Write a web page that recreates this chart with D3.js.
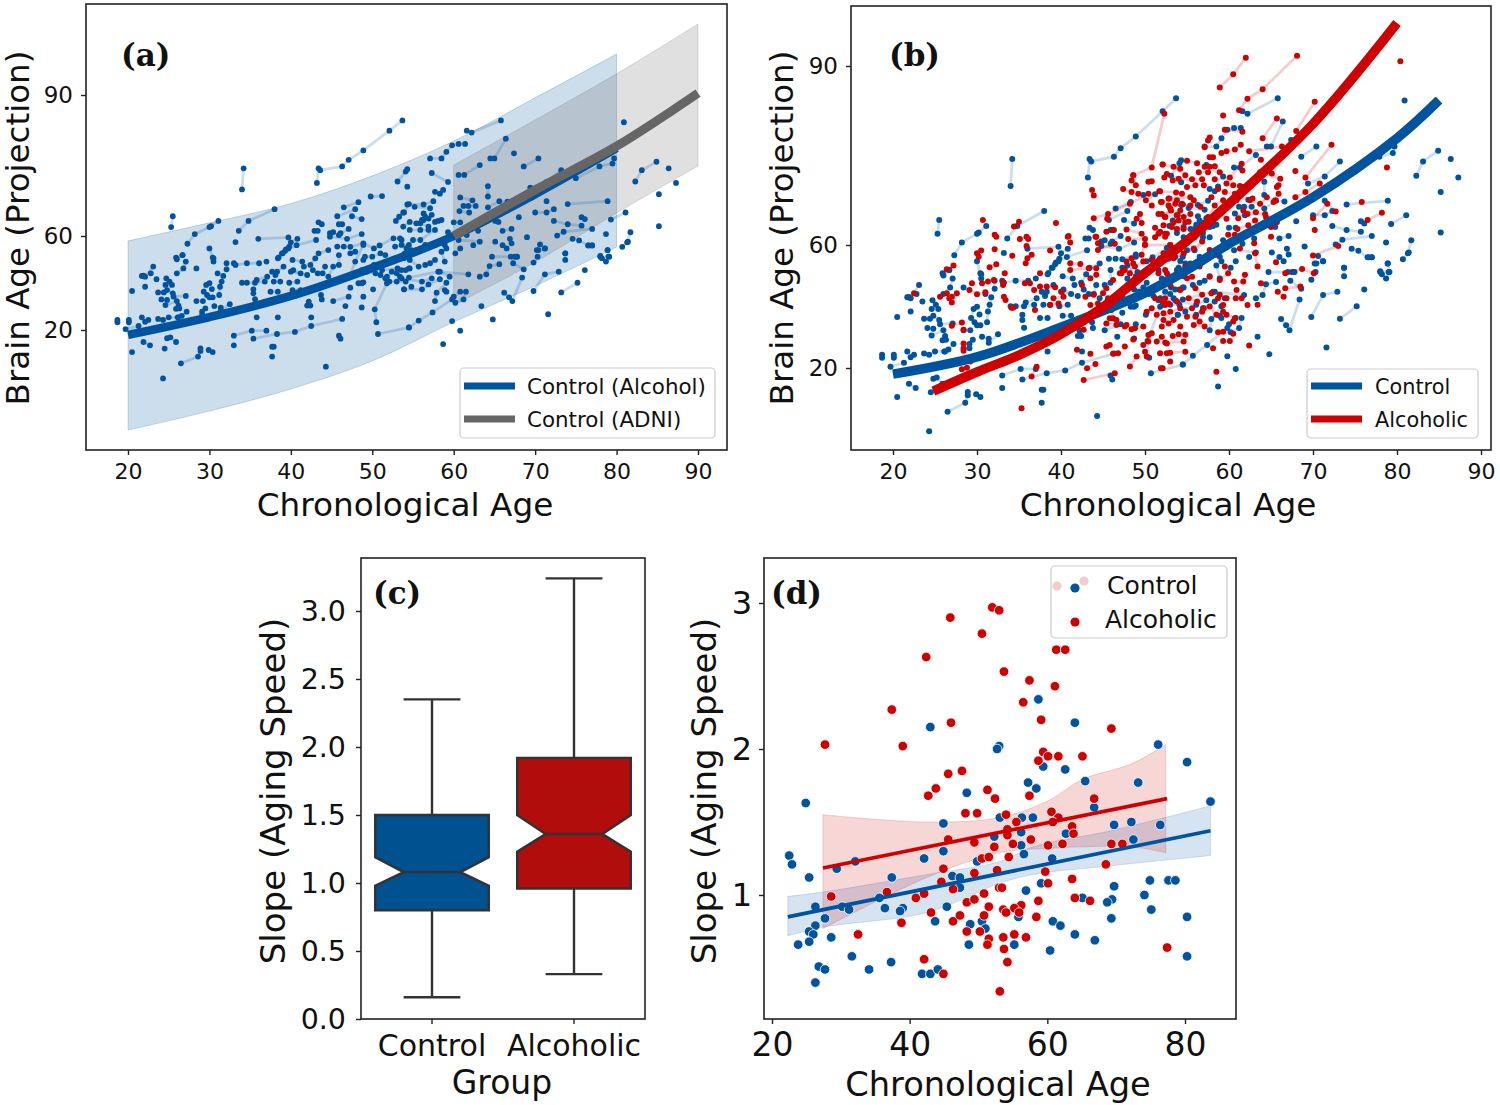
<!DOCTYPE html>
<html>
<head>
<meta charset="utf-8">
<script src="https://d3js.org/d3.v7.min.js"></script>
<style>
html, body { margin: 0; padding: 0; background: #fff; }
text { font-family: "DejaVu Sans", sans-serif; fill: #111; }
</style>
</head>
<body>
<div id="chart"></div>
<script>
var blue = "#00539f";
var red = "#cf0000";
var gray = "#666666";

// trend curves and shaded bands, panel (a)
var ageA = [20, 30, 40, 50, 60, 70, 80];
var controlA = [17.9, 25.5, 34.5, 46.4, 60, 68.9, 78.7];
var controlUpperA = [57.9, 62.8, 66.9, 72.8, 80.2, 89.4, 98.7];
var controlLowerA = [-22.6, -14.5, -5.1, 6.8, 23.4, 38.7, 55.3];
var ageAdni = [60, 70, 80, 90];
var adni = [60, 69.8, 79.1, 90.4];
var adniUpper = [75.1, 84.7, 94.5, 105.1];
var adniLower = [30.6, 48.9, 64.9, 74.9];

// trend curves, panel (b)
var ageControlB = [20, 30, 40, 50, 55, 60, 70, 80, 85];
var controlB = [18, 23.6, 33.3, 44.4, 51.9, 60.2, 68, 77.9, 84.3];
var ageAlcoholicB = [24.8, 30, 35, 40, 45, 50, 55, 60, 70, 80];
var alcoholicB = [12.5, 18.7, 24.2, 31, 39.8, 50.9, 60.7, 66.9, 80.3, 97.2];

// boxplot, panel (c)
var groups = ["Control", "Alcoholic"];
var whiskerLow = [0.16, 0.33];
var boxQ1 = [0.8, 0.96];
var notchLow = [0.98, 1.23];
var boxMedian = [1.08, 1.36];
var notchHigh = [1.19, 1.5];
var boxQ3 = [1.5, 1.92];
var whiskerHigh = [2.35, 3.24];

// regression lines and bands, panel (d)
var fitAgeControl = [22.3, 83.7];
var fitControl = [0.85, 1.44];
var fitAgeAlcoholic = [27.4, 77.4];
var fitAlcoholic = [1.185, 1.66];
var bandAgeControl = [22.3, 27.4, 42.5, 53.1, 57.9, 69.2, 83.7];
var bandControlUpper = [0.99, 1.02, 1.14, 1.23, 1.33, 1.44, 1.61];
var bandControlLower = [0.72, 0.78, 0.88, 1.08, 1.14, 1.2, 1.27];
var bandAgeAlcoholic = [27.4, 42.5, 53.1, 60.3, 65, 72.3, 77.2];
var bandAlcoholicUpper = [1.55, 1.5, 1.53, 1.65, 1.79, 1.9, 2.03];
var bandAlcoholicLower = [0.77, 1.12, 1.29, 1.32, 1.33, 1.33, 1.29];

// one flat age,brain,age,brain list per subject
var controlTracks = [
[25.3,61.9,25.5,64.2],[34.0,69.9,34.2,74.4],
[43.2,71.3,43.4,74.4,43.6,74.0,46.3,74.8,47.1,76.2,48.9,78.2,52.1,82.4,53.7,84.6],
[33.6,61.1,34.8,63.2,38.0,65.7],[27.3,56.7,28.2,60.4,30.0,61.9,30.2,62.1,31.1,63.2],[33.2,57.4],
[36.0,58.8,39.7,59.4],[38.5,50.9,38.9,52.6,39.3,53.7,39.7,54.7,40.7,56.1,43.1,58.3],[40,57.3,40.8,58.8],
[49.8,68.4,51.2,68.5],[46.5,66.1,48.3,67.2],[45.7,64.2,47.9,65.7],[47.5,64.2,48.7,63.6],
[43.4,62.9,43.8,62.5],[42.9,61.1,43.3,61.1],[45.9,62.5,46.3,62.5],[44.8,60.6,45.2,60.8],[45.9,60.2,46.1,60.6,47.1,61.5],[44.8,59.7,46.9,58.8,48.7,60.4],
[53.1,71.6,54.1,73.7,54.3,74.2],[54.3,70.5],[52.9,63.2,53.3,64.1,53.9,65.0,54.5,66.8],
[30.0,54.7,30.4,50.8],[25.9,50.8,26.7,51.9],[47.3,55.4,48.9,56.9,50.2,54.7,50.9,56,52.6,59,53.4,59],
[18.7,24.3],[18.7,23.3],[20.1,24.3],[20.1,23.3],[19.7,20.4,21.3,21.7],[20.5,36.6],[20.5,10.6],
[21.7,43,21.9,43.1,22.1,42.7,23.1,47],[22.8,44.1],[22.1,38.4],[23.5,41.6],[26,50.1,26.7,51.9],[26,44.1,26.8,46.2,27.1,49.1],[28.4,46.2],
[24.7,42,25.1,40.6],[24.6,39.2,25.4,39.2],[24.8,37,25.5,35.6],[23.7,36,24.4,36],[25.6,34.2,27.1,34.5],[24.1,33,24.8,32.8],[24.6,30.6,26,32.3],[26.2,30.4,25.9,29,26.3,29.2],[27.2,27.8,26.6,26,26.1,25.4],
[21.7,25.4,22.1,23.5,22.5,24.3],[23.7,24.7,24.3,24.3,25,25.4,26.2,25.4],[21.9,14.9,22.7,13.5],[24.5,12.1],[24.8,16.5,25.2,16.9,25.9,14.9],[24.3,-0.6],
[26.5,5.8,28.6,8.7,28.9,11.1,28.9,12.2],[29.9,11.5,30.4,10.6],[33,17.6,35.2,19.7,37,19.7],[35.4,16.3,38.3,18.3,40.5,19.2,42.5,21.7,46.3,24.7],[33,13.5],
[35.8,25.4],[38.4,25.4],[42.5,25.4],[37.7,12.9,37.9,12.9],[37.7,8.7],[44.3,4.4],[45.9,17.6,46.1,16.3],[50.7,18.3,54.5,21.1],
[50.5,23.3,50.3,28.8,51.8,39.9],[48.7,29.6],[46.7,30.2],[45.2,32.3,47.1,34.2],[47.3,38],[48.9,34.2],[42,30.4,42.2,32.1,42.4,30.4],[43.7,34.9,43.8,33],[50.1,37.3],[53.9,37.3],
[29.3,36.3,29.6,39.2,30,39.9],[30.3,37.4],[29.7,34.9,30,33.9,30.4,33.9],[31.2,34.9,31.3,38.4,31.5,40.6,31.7,43],[32.1,45.8,32.1,48.4],[30.5,49.1,30.5,50.5],[31,44.1],
[28.4,32.3,29.2,32.3],[29.1,26.4,29.1,27.8,29.5,29.2],[30.6,30.2,31.4,29.5],[31.4,28.2,32.5,31],[33,48.4,33.2,47.7,34.6,48.4,36.1,48.4],[37,49.1],[38.4,50.5,39,52.6,39.4,54.3,39.8,55.5],
[40.2,49.8,41.4,49.1],[41.6,47],[40,44.8,42,43.4],[42.7,45.5,43.3,44.1,43.9,44.1,44.2,47],[37.7,44.8,38.1,43.4],[37.9,40.6,38.7,40.6],[37.5,36.3,38.4,36.3],
[34,40.1,34.6,40.1,35.6,40.1,36.8,40.6],[35.4,35.6,35.4,37.3],[35.6,33.1],[39.8,40.1,40.8,40.6],[40.2,37,41.2,37],[44.6,42.7,45.2,47,45.9,47.7,45.9,51.9],
[47.3,43.4,47.9,49.1,48.9,56.2],[48.9,49.8],[50.4,44.1,50.2,47.7],[49.1,51.2,50,51.2,51,52.6],[48.3,39.9,48.7,39.9,48.9,40.3],
[51.2,45.5,53.1,46.2,54.1,45.5],[51.6,42],[52.1,40.6,53,40.6,54.1,40.6],
[58.7,14],[60.8,19.7],[59.8,23.8],[64.8,24.5],[71.6,26.7],[54.5,21.1,55.7,24,57.4,27.5,59.8,33],[57.7,32.3,57.9,35.9,59.1,40.1],
[60,34.2,60.8,36.3],[60.2,31.6,61.2,33,61.5,36.3],[63.4,30.2],[66.2,35.9,66.8,33.9],[67.2,32.3,68.4,42.3],[69.8,36.6,71.2,43.7,72.9,44.8],[73.2,36,75.2,40.1],
[76.1,45.5],[78,51.2,78.2,50.5],[78.7,49.1,79.1,51.2,78.9,54],[80.7,55.4,81.3,57.3,81.7,60.8],[81.4,57.6],
[53.9,37.3,56.1,37.3,56.9,39.4,58.3,41.6],[58.9,37,59.1,36.3],[54.5,42.3,58.1,44.8,61.8,43.7],[63.2,42.7,64,43.7,64.4,47.2,65.6,48],[67.3,48.4,68.6,45.8],
[69.8,48.7,70.3,51.2],[70.4,54,71.2,54.7],[73.7,52.6,73.7,49.8],[76.6,56,77,56],[64.7,51.2,67,51.2,67.8,51.2],
[61.6,82.4,62.2,82.0,65.8,84.6],[57.1,76.5,58.5,76.5,59.1,77.9,59.8,79.3,60.6,79.6,61.4,79.6],[64.5,76.5,65,76.5,66.4,80.7],[67.4,77.6],[68.6,74.8,70.4,76.5],[80.9,84.2],
[82.3,71.6,83.1,74.0,84.9,75.8],[86.4,74.4],[87.3,71.3],[85.2,68.9],[85.2,62.1],[79.3,63.5,81.1,65],[74,66.8,78.9,67.4],[69.4,70.3,71.4,71.5,73.2,74],
[75,72.3,77.9,74.8,79.5,75.4,79.7,76.5],[60.6,73,61.3,73,63.2,75.1],[57.3,73.4,59.3,71.5],[57.7,69.4,58.3,69,58.7,69.8],[54.3,66.7,56.3,66.7,57.5,67.4],
[64.2,68.4,64.2,70.6],[60.8,68.2,62.3,67.6],[61.2,66.4,61.8,66.4,62.7,66.4],[64.2,66.1,65.6,67.4,66.6,67.3],[60.7,65.3,61.9,65],[70,65,71.4,65,72.3,65.7],[71.4,67.4],
[68,64],[65.1,63.2,65.5,63],[60,62.9,60.8,62.9],[58.1,63.2],[55.4,62.7,56.1,63.4,56.5,64.1],[75.7,64,76.1,63.6],[72.3,63.2,74,62.5,75.7,62.2],[72.7,60.1,73.5,60.9,77,61.5],[78.7,60.4],
[69,59.5],[66,61.1,67.1,61.5],[65.1,57.6],[63,61.1],[61.6,60.2],[59.3,60.8],[74.6,58.8,75.4,58.1,76.5,56,77,56],[70.6,56.4,71.2,54.7],[70.2,54],
[66.9,58.8,67.1,56.9],[66,56.1,66.5,54.7],[60.6,58.3,63.2,57.6],[62.4,56.1],[60.8,54.7],[78.9,54],[78,51.5,79,51.2],[73.7,52.6],[67.5,51.2,67.7,51.2],
[53.8,65],[54.6,61.3,55.9,61.3,56.9,61.3],[56.3,63.4,56.9,63.7,57.3,64.5],[55,58.3,55.9,58.3,57.7,61.3],[58.3,57.6,58.7,57.6],[59.1,54.7],[60.2,52.6],[54,52.6],[54.8,54],[53.6,58.3],
[48.7,45.5,49.8,46.2],[49.3,44.8,51,43.4],[51.8,42.7,52.4,44.8],[53,44.1,53.6,45.5,54.5,46.2],[53.4,42.7],[52,49.1,52.8,49.8,53.9,50.5,54.5,51.2],[51.6,51.9],[52.8,55.5,53.6,56.2,54.5,56.2],
[47.3,52.6,47.9,53.3],[45.7,55.5,46.5,55.5],[43.4,52.6,44.6,54],[42.4,47.7,43,50.5],[40.3,45.5,41.2,44.1],[38.3,44.8,39.1,47],[35.8,41.3,37.1,42.7],
[54.6,49.8,55.7,47],[56.5,47.7,57.1,48.4,57.7,49.8],[58.5,53.3,58.9,49.1],[53.8,51.9,54.2,54.8,55.4,54],[56.5,56.2,57.7,56.2,58.9,56.2],[53.6,42,56.1,40.6,57.3,42],[54.8,38.4],[58.3,44.8,59.5,42.7],[54.6,46.2],
[55.2,66.2,57.1,65.9],[56.3,64.8],[55.9,62.7,56.9,62],[57.7,63,58.5,63.4],[53.8,62,54.6,63]
];

var alcoholicTracks = [
[30.7,64.2],[32.1,61.7,32.3,61.4],[34.4,63.1,35,63.9],[35.1,61,35.9,61.4,36.1,61],[39.4,63.7],[40.8,61.4],[43.9,64.5,45.6,65.2,48.2,66.9,50.4,68.6],[43.7,69.2,43.9,68.3],[45.5,64.4],[45.4,62.2,46.2,62.5],[44.1,61.4],
[47.4,69.4,48.4,68.9],[48.9,70,48.6,71.7],[48.4,70.8],[48.6,71.7,50.8,73,52.3,82],[52.1,73.5],[52.3,71.3],[50.4,70.6,50.8,70.7],[49.2,68.6],[50.1,67.5,51.7,69],[52.8,67.8],[51.9,67.2],[50.8,66.6],[51.6,65.2,52.4,64.7,53,66.1],
[49.4,65.2,49.6,63.7],[49,64.4],[47.8,62.6,49.6,61.9],[48,61,50,61],[51.2,62.9,51.8,62.2,52.4,61.9],[51.2,61.3],
[58.9,86.4,60.5,88.6,62,91.4],[61.2,82.6,62.2,84.5,64,86.1,68.1,91.7],[59.3,81.7],[68,79.1,70.2,84],[80.4,90.8],[64,77.9,65.7,81.2],[59.5,79.3,61.6,79],[57.5,77.5,57.7,78],[59.1,75.4,59.7,75.7,60.7,76,61.4,76.8],[62.4,75.7,66.3,76.5],
[69.1,71.3,72.2,76.8],[67.9,72.4],[63.8,74.3],[78.8,73],[65.1,72],[75.8,67.2],[76.5,64.2,78.2,65.4],[70,64.5,71.7,66.9,72.7,65.6],[67.9,68,69.1,68.9,70.8,70.3],
[57.1,76.4],[57.7,74.7,58.1,74.7],[57.1,73.1,57.7,73.1,58.3,73.2,58.9,72.2],[55,74.1,56.2,73.7],[52.1,73.5,54.2,72.8],[53.3,70.8,55.6,71,56.8,71],[58.3,71,60.1,71.3,61.5,73.6],[61.6,72.5],
[59.7,70.3,60.5,70,61.3,69.9],[59.5,68.9,60.7,68.6],[58.7,69.4],[57,70],[57.9,68],[51.8,69,53.7,68.8,54.4,68.6],[52.9,67.8,55.4,68],[52,67.2,53.8,67.5],[54.4,66.9,55.4,66.6],[53.1,65.8],[52.4,64.7,53.8,65],[54.6,64.7,55.4,65.2],
[54,64.1,55.2,63.9],[53.2,63,54.6,62.7],[52.6,61.9],[63.7,72.2,66.1,71.1],[65.7,69.7,65.9,70],[65.3,67.2,65.5,67.5,65.9,68.6],[62.8,67.8],[61.7,65.8,63.2,65.5],[61.1,64.5,62.2,65.2,64.3,65.2],[64.4,64.7],[61,62.7,62.3,63.3,63.1,64.1],[59.9,61.7,60.7,61.7],[65,61.4],[65.7,63.8],
[26.4,52.1,27.2,53.3],[22.5,44.3],[25.6,43.2,26.4,44.3],[26.7,42.7,27,43.2],[27,41.3,27.6,44.3],[30.2,56.2,30,57.3,30.5,58.2],[32.1,58.6],[31.5,52.8,32.3,53.7],[33.3,50.8],[32,48.6],[30.6,47.6,31.3,48.1],[29.4,47.6],[29.1,45.4,30,44,31,44.6],
[33.1,47,33.1,47.9],[33.2,43.2,33.4,42.1],[34.1,39.6,34.3,39.6],[34.2,56.5],[35.8,54.1,36,55.7,36.5,56.8],[35.9,59.7],[38.7,58.2],[40.9,61.5,41.1,60.4],[37.5,50.8],[35.7,47.6,36.3,47.6],[36.8,45.4,37.5,46.5,38.3,46.5,39.3,46.3],[40.1,44.8],
[36.9,38.9],[38.7,40.5,39.7,41],[39.1,42.7,40.3,43.2],[41.1,54.1,42.3,53.8],[41.1,51.9,43.3,52.4,44.2,52.4],[44.2,50.3],[43.5,49.2],[42.5,47],[42.9,43.2,43.9,43.8],[43.5,40.5,44.4,41],
[44.2,61.4,44.4,60.3],[44.4,58.4,46.4,60.2],[47,50.8,47.4,51.9],[48.2,50.8,48.6,54,48.4,55.7],[49.6,56.8,50,60.1],[46.2,48.6],[45,44.3,45.4,45.9],[45.6,42.7],[45,38.9],[45.8,36.2,46.6,35.6],[45.4,34.5,46.6,34,47.6,33.5],[48.4,32.6,48.8,32.9,49.8,33.5],[50.4,28.6,50.8,31.3],[49.8,27.5],[48.6,29.3],[47.6,27],
[46.2,24.6,46.8,24.8],[45.4,27,45.8,27.5],[42.7,32.4],[41.9,25.9],[43.5,24.6],[43.1,19.9,44.1,21.3],[42.7,16.1,46.4,18.3],[36.5,17.2,37.1,20.4],[35.3,6.9],[48.2,20.5,49,23.7],[50,25.3,50.2,23.7],
[51.4,28.6,52,30.2],[52.6,28],[51.8,24.8,53,25],[51.9,19.9],[50.4,30.7],[52,42.1,52.4,40.5],[51.4,37.3],[50.2,38.3,50.8,39.4],[51.2,42.7],[28.4,25.6,28.4,26.4],[29.2,22.1],[28.2,19.6,28.8,20.1],[27,33.7,28.2,34.8],[28.4,32.4],[28.4,28],
[70,56.6,73,59.7],[70.2,62.5],[65.6,54.4],[66.7,50.8,68.7,52.2,70.1,50.8],[66.7,45.9,68.5,46.5],[66.5,43.2,65.8,44.8],[63.8,47.6],[62.2,40.5],[63.4,40.6],[65,63],
[63.4,53,63.1,57.3],[63,60.3],[61.3,58.9],[60.6,48.1,61.7,48.1,61.9,50.3],[60.9,45.4],[60.8,42.7,61.5,42.7],[58.7,42.7,58.9,43.8],[59.7,42.7],[59.3,40.5],[59.3,38.3,59.7,37.3,60.7,36.2],[60.5,35.1],[58.7,31.6,59.3,31.8,60.5,31.1],[59.3,28.8,60.1,28.8],[58.1,26.4],[62.4,27.3],[58.5,18.8],
[58.9,48.6,59.9,50.8],[59.5,53],[57.7,49.7],[56,54,56.5,53],[55,49.2,55.6,49.7],[56,45.9,56.8,43.8],[57.9,44.3],[56.8,38.3,57,39.4],[56,36.7,56.5,35.1],[55.8,34,57.1,33.5],[55,36.7],[54.2,33.5],[53.3,30.4,54,31,54.8,30.8],[52.4,28.3,54.6,28.6],[52.6,24.8,54.8,25.3],[53,22.1],[52.1,19.9],
[51.6,61.9,52.4,61.4],[50,60,53,60],[47.2,50.8,47.6,51.9,47.8,54.6],[48.8,53,49.8,54.6],[50.8,55.1,51.8,55.7],[51.6,50.8,52.4,51.9],[46,38.9,46.2,36.2],[47.8,34],[52.2,41.6,52.8,41],[52.2,35.6,52.8,34.5],
[53.4,73.1,54.8,71.7],[52.6,71.9,54,71.1],[56.4,72.2,57.5,72.2],[55,69.7,56,70],[52.8,66.6,53.6,66.9],[52,65.2,54.2,65.8],[52.2,63.3,53.4,63.8],[55.8,67.5,56.6,66.4],[57.5,64.7,58.3,66.6,59.3,67.5],[60.1,66.9,60.9,67.5,61.7,69.7],[62.5,67.5,63.7,66.9,64.5,68],[58.7,65.5,59.7,64.4],
[53.8,62.7,54.8,63.8],[52.2,57.3,53,60],[53.4,55.7,54.6,57.3,55.8,58.9,56.8,60.6],[57.7,58.4,58.5,56.8],[52.6,50.8,53.6,49.7,54.8,53],[53,47,54.2,45.4],[52.4,42.7,53.8,41.6,55.2,42.7,56.2,41.6],[53,38.3,54.2,39.4,55.6,39.4],[52.2,37.8,53.4,35.6],[52,33.5],[57.7,40,58.5,37.3]
];

// subject points, panel (d): age, slope
var slopeControl = [
[24.9,1.63],[22.5,1.27],[22.9,1.21],[25.4,1.12],[26.3,.92],[30.2,.92],[31.2,.90],[29.4,1.18],[32.1,1.23],[37.4,1.12],[35.6,.98],[36.4,.91],[39.0,.91],[38.6,.89],[42.1,1.25],[44.9,1.49],[44.9,1.30],[45.4,.92],[46.2,1.13],[47.3,1.12],[47.3,1.05],[27.7,.84],[26.3,.79],[25.4,.75],[26.0,.73],[28.6,.71],[25.4,.68],[23.8,.66],[26.8,.51],[27.7,.49],[26.3,.40],[31.6,.58],[34.1,.49],[37.3,.54],[41.8,.46],[43.0,.46],[44.1,.49],[43.7,.82],[48.8,.80],[48.6,.66],[50.5,.82],[51.0,.77],[49.8,1.23],[52.3,1.40],[53.1,1.53],[48.3,1.70],[43.0,2.15],[53.0,2.02],[52.7,2.00],[58.7,2.34],[64.0,2.18],[59.4,1.88],[62.6,1.86],[57.2,1.77],[58.4,1.73],[65.5,1.78],[73.2,1.77],[76.1,2.03],[80.3,1.91],[83.7,1.64],[66.8,1.60],[69.7,1.48],[72.2,1.50],[76.4,1.48],[72.5,1.38],[57.9,1.53],[56.3,1.53],[56.2,1.43],[56.2,1.34],[56.6,1.28],[62.7,1.42],[60.7,1.25],[59.1,1.08],[56.9,1.03],[69.7,1.06],[74.9,1.10],[77.6,1.10],[78.6,1.10],[74.1,1.00],[75.1,.90],[80.3,.85],[69.4,.97],[68.7,.95],[69.3,.84],[65.1,.98],[60.8,.82],[61.9,.79],[64.0,.73],[66.9,.69],[60.4,.62],[80.3,.58],[55.2,.66],[55.8,.85]
];
var slopeAlcoholic = [
[28.6,.99],[32.5,.73],[36.7,1.02],[38.8,.81],[40.9,.98],[42.1,1.01],[42.1,.56],[44.9,.46],[43.1,.88],[44.9,1.18],[44.6,1.09],[45.6,1.38],[48.1,1.56],[49.8,1.56],[49.4,1.36],[46.3,1.04],[46.3,.82],[47.3,.86],[48.3,.75],[48.3,.95],[49.4,.97],[50.8,1.01],[51.5,.92],[50.8,.86],[50.2,.75],[51.5,.70],[51.3,.66],[49.4,1.15],[50.5,1.25],[51.5,1.26],[52.3,1.33],[52.7,1.17],[53.0,1.05],[53.1,.34],[42.7,1.68],[51.3,1.72],[52.4,1.66],[27.7,2.03],[37.4,2.27],[42.4,2.63],[45.9,2.90],[52.0,2.97],[53.0,2.95],[50.5,2.79],[46.0,2.18],[39.0,2.02],[43.8,1.73],[45.6,1.83],[47.6,1.85],[53.7,2.53],[61.3,2.68],[62.6,2.68],[57.4,2.47],[61.1,2.43],[56.5,2.32],[59.1,2.20],[69.3,2.14],[59.4,1.98],[60.1,1.95],[58.7,1.92],[61.6,1.95],[65.1,1.95],[57.4,1.68],[66.8,1.66],[60.6,1.57],[61.6,1.53],[60.8,1.50],[54.0,1.55],[55.5,1.50],[54.2,1.45],[54.2,1.41],[57.6,1.38],[55.0,1.35],[60.1,1.34],[62.2,1.35],[63.6,1.47],[63.8,1.42],[69.3,1.35],[70.9,1.35],[68.5,1.21],[54.4,1.26],[59.7,1.16],[63.6,1.11],[60.1,1.08],[53.4,1.05],[58.7,.96],[64.0,.98],[66.2,.96],[56.2,.93],[55.2,.91],[53.6,.90],[55.9,.88],[54.0,.88],[58.4,.85],[55.2,.73],[53.6,.71],[56.9,.71],[53.7,.63],[54.2,.54],[77.4,.64]
];

var svg = d3.select("#chart").append("svg")
    .attr("width", 1500)
    .attr("height", 1105);

// frames of the four panels: left, right, top, bottom
var frameA = {l: 86, r: 727, t: 4, b: 450};
var frameB = {l: 851, r: 1491, t: 6, b: 450};
var frameC = {l: 361, r: 645, t: 558, b: 1019};
var frameD = {l: 764, r: 1236, t: 558, b: 1019};

function pairs(track) { // flat list to [age, brain] pairs
    return d3.range(0, track.length, 2).map(i => [track[i], track[i + 1]]);
}

function drawBand(ages, upper, lower, x, y, color, alpha) {
    var area = d3.area()
        .x(i => x(ages[i]))
        .y0(i => y(lower[i]))
        .y1(i => y(upper[i]))
        .curve(d3.curveCatmullRom);
    svg.append("path")
        .attr("d", area(d3.range(ages.length)))
        .attr("fill", color)
        .attr("fill-opacity", alpha)
        .attr("stroke", color)
        .attr("stroke-opacity", alpha)
        .attr("stroke-width", 1);
}

function drawCurve(ages, values, x, y, color, width) {
    var line = d3.line()
        .x(i => x(ages[i]))
        .y(i => y(values[i]))
        .curve(d3.curveCatmullRom);
    svg.append("path")
        .attr("d", line(d3.range(ages.length)))
        .attr("fill", "none")
        .attr("stroke", color)
        .attr("stroke-width", width);
}

function drawTracks(tracks, x, y, color, radius) {
    var line = d3.line().x(d => x(d[0])).y(d => y(d[1]));
    var data = tracks.map(pairs);
    svg.append("g").selectAll("path")
        .data(data.filter(d => d.length > 1))
        .join("path")
        .attr("d", line)
        .attr("fill", "none")
        .attr("stroke", color)
        .attr("stroke-opacity", 0.2)
        .attr("stroke-width", 2.8);
    svg.append("g").selectAll("circle")
        .data(data.flat())
        .join("circle")
        .attr("cx", d => x(d[0]))
        .attr("cy", d => y(d[1]))
        .attr("r", radius)
        .attr("fill", color);
}

function drawFrame(f) {
    svg.append("rect")
        .attr("x", f.l)
        .attr("y", f.t)
        .attr("width", f.r - f.l)
        .attr("height", f.b - f.t)
        .attr("fill", "none")
        .attr("stroke", "#222")
        .attr("stroke-width", 1.6);
}

function styleAxis(g, size) {
    g.select(".domain").remove();
    g.selectAll("line").attr("stroke", "#222").attr("stroke-width", 1.4);
    g.selectAll("text").style("font-size", size + "px").attr("fill", "#111");
}

function bottomAxis(axis, f, size, pad) {
    var g = svg.append("g")
        .attr("transform", `translate(0,${f.b})`)
        .call(axis.tickSizeOuter(0).tickSize(5).tickPadding(pad));
    styleAxis(g, size);
}

function leftAxis(axis, f, size, pad) {
    var g = svg.append("g")
        .attr("transform", `translate(${f.l},0)`)
        .call(axis.tickSizeOuter(0).tickSize(5).tickPadding(pad));
    styleAxis(g, size);
}

function axisTitle(label, x, y, size, rotate) {
    svg.append("text")
        .attr("transform", `translate(${x},${y})` + (rotate ? " rotate(-90)" : ""))
        .attr("text-anchor", "middle")
        .attr("dominant-baseline", "middle")
        .style("font-size", size + "px")
        .text(label);
}

function panelLabel(label, x, y, size) {
    svg.append("text")
        .attr("x", x)
        .attr("y", y)
        .attr("dominant-baseline", "middle")
        .style("font-family", '"DejaVu Serif", serif')
        .style("font-weight", "bold")
        .style("font-size", size + "px")
        .text(label);
}

function legendBox(x, y, w, h) {
    svg.append("rect")
        .attr("x", x).attr("y", y)
        .attr("width", w).attr("height", h)
        .attr("rx", 4)
        .attr("fill", "#fff")
        .attr("fill-opacity", 0.85)
        .attr("stroke", "#ccc")
        .attr("stroke-width", 1.2);
}

function legendLine(x1, x2, y, color, label, textX, size) {
    svg.append("line")
        .attr("x1", x1).attr("x2", x2)
        .attr("y1", y).attr("y2", y)
        .attr("stroke", color)
        .attr("stroke-width", 7);
    svg.append("text")
        .attr("x", textX).attr("y", y + 2)
        .attr("dominant-baseline", "middle")
        .style("font-size", size + "px")
        .text(label);
}

// ---- panel (a)
var xA = d3.scaleLinear().domain([20, 90]).range([128, 698]);
var yA = d3.scaleLinear().domain([20, 60, 90]).range([330, 236, 95]); //brain age ticks are not evenly spaced

drawBand(ageA, controlUpperA, controlLowerA, xA, yA, blue, 0.2);
drawBand(ageAdni, adniUpper, adniLower, xA, yA, gray, 0.2);
drawTracks(controlTracks, xA, yA, blue, 2.9);
drawCurve(ageA, controlA, xA, yA, blue, 8.5);
drawCurve(ageAdni, adni, xA, yA, gray, 9);
drawFrame(frameA);
bottomAxis(d3.axisBottom(xA).tickValues(d3.range(20, 100, 10)), frameA, 22, 8);
leftAxis(d3.axisLeft(yA).tickValues([20, 60, 90]), frameA, 23, 8);
axisTitle("Chronological Age", 405, 507, 32.7);
axisTitle("Brain Age (Projection)", 20, 228, 32.5, true);
panelLabel("(a)", 121, 57, 31);
legendBox(460, 368, 255, 70);
legendLine(464, 515, 386, blue, "Control (Alcohol)", 527, 21.4);
legendLine(464, 515, 419, gray, "Control (ADNI)", 527, 21.4);

// ---- panel (b)
var xB = d3.scaleLinear().domain([20, 90]).range([893, 1481]);
var yB = d3.scaleLinear().domain([20, 60, 90]).range([368, 245, 66]);

drawTracks(controlTracks, xB, yB, blue, 3);
drawTracks(alcoholicTracks, xB, yB, red, 3);
drawCurve(ageControlB, controlB, xB, yB, blue, 9.5);
drawCurve(ageAlcoholicB, alcoholicB, xB, yB, red, 9.5);
drawFrame(frameB);
bottomAxis(d3.axisBottom(xB).tickValues(d3.range(20, 100, 10)), frameB, 22, 8);
leftAxis(d3.axisLeft(yB).tickValues([20, 60, 90]), frameB, 23, 8);
axisTitle("Chronological Age", 1168, 507, 32.7);
axisTitle("Brain Age (Projection)", 784, 228, 32.5, true);
panelLabel("(b)", 889, 57, 31);
legendBox(1307, 369, 171, 69);
legendLine(1311, 1362, 386, blue, "Control", 1375, 20.8);
legendLine(1311, 1362, 419, red, "Alcoholic", 1375, 20.8);

// ---- panel (c)
var xC = d3.scaleBand().domain(groups).range([frameC.l, frameC.r]);
var yC = d3.scaleLinear().domain([0, 3]).range([1019, 611]);
var boxColors = ["#00518f", "#b10d0d"];
var boxWidth = xC.bandwidth() * 0.8;

groups.forEach(function(g, i) {
    var c = xC(g) + xC.bandwidth() / 2;
    var half = boxWidth / 2;
    var inner = half / 2; //notch goes in to half the box width
    [[whiskerLow[i], boxQ1[i]], [boxQ3[i], whiskerHigh[i]]].forEach(function(w) {
        svg.append("line")
            .attr("x1", c).attr("x2", c)
            .attr("y1", yC(w[0])).attr("y2", yC(w[1]))
            .attr("stroke", "#333").attr("stroke-width", 2.4);
    });
    [whiskerLow[i], whiskerHigh[i]].forEach(function(v) {
        svg.append("line")
            .attr("x1", c - inner).attr("x2", c + inner)
            .attr("y1", yC(v)).attr("y2", yC(v))
            .attr("stroke", "#333").attr("stroke-width", 2.4);
    });
    var outline = [
        [c - half, boxQ1[i]], [c + half, boxQ1[i]], [c + half, notchLow[i]],
        [c + inner, boxMedian[i]], [c + half, notchHigh[i]], [c + half, boxQ3[i]],
        [c - half, boxQ3[i]], [c - half, notchHigh[i]], [c - inner, boxMedian[i]],
        [c - half, notchLow[i]]
    ];
    svg.append("path")
        .attr("d", d3.line().x(d => d[0]).y(d => yC(d[1]))(outline) + "Z")
        .attr("fill", boxColors[i])
        .attr("stroke", "#333")
        .attr("stroke-width", 2.4);
    svg.append("line")
        .attr("x1", c - inner).attr("x2", c + inner)
        .attr("y1", yC(boxMedian[i])).attr("y2", yC(boxMedian[i]))
        .attr("stroke", "#333").attr("stroke-width", 2.4);
});
drawFrame(frameC);
bottomAxis(d3.axisBottom(xC), frameC, 30, 11);
leftAxis(d3.axisLeft(yC).tickValues(d3.range(0, 3.5, 0.5)).tickFormat(d3.format(".1f")), frameC, 28.5, 10);
axisTitle("Group", 502, 1084, 33);
axisTitle("Slope (Aging Speed)", 275, 791, 34, true);
panelLabel("(c)", 373, 595, 31);

// ---- panel (d)
var xD = d3.scaleLinear().domain([20, 80]).range([772, 1185]);
var yD = d3.scaleLinear().domain([1, 3]).range([895, 603]);

drawBand(bandAgeControl, bandControlUpper, bandControlLower, xD, yD, blue, 0.16);
drawBand(bandAgeAlcoholic, bandAlcoholicUpper, bandAlcoholicLower, xD, yD, red, 0.16);

function drawSlopePoints(points, color) {
    svg.append("g").selectAll("circle")
        .data(points)
        .join("circle")
        .attr("cx", d => xD(d[0]))
        .attr("cy", d => yD(d[1]))
        .attr("r", 4.8)
        .attr("fill", color)
        .attr("stroke", "#fff")
        .attr("stroke-width", 0.8);
}
drawSlopePoints(slopeControl, blue);
drawSlopePoints(slopeAlcoholic, red);
drawCurve(fitAgeControl, fitControl, xD, yD, blue, 3.8);
drawCurve(fitAgeAlcoholic, fitAlcoholic, xD, yD, red, 3.8);
drawFrame(frameD);
bottomAxis(d3.axisBottom(xD).tickValues([20, 40, 60, 80]), frameD, 33, 9);
leftAxis(d3.axisLeft(yD).tickValues([1, 2, 3]).tickFormat(d3.format("d")), frameD, 32, 7);
axisTitle("Chronological Age", 998, 1086, 33.7);
axisTitle("Slope (Aging Speed)", 706, 791, 34, true);
panelLabel("(d)", 771, 595, 31);

legendBox(1051, 566, 176, 72);
svg.append("circle").attr("cx", 1057).attr("cy", 586).attr("r", 4.6).attr("fill", red).attr("fill-opacity", 0.2);
svg.append("circle").attr("cx", 1084).attr("cy", 581).attr("r", 4.6).attr("fill", red).attr("fill-opacity", 0.2);
svg.append("circle").attr("cx", 1075).attr("cy", 588).attr("r", 4.6).attr("fill", blue);
svg.append("circle").attr("cx", 1075).attr("cy", 622).attr("r", 4.6).attr("fill", red);
svg.append("text").attr("x", 1107).attr("y", 587).attr("dominant-baseline", "middle").style("font-size", "25px").text("Control");
svg.append("text").attr("x", 1105).attr("y", 621).attr("dominant-baseline", "middle").style("font-size", "25px").text("Alcoholic");
</script>
</body>
</html>
